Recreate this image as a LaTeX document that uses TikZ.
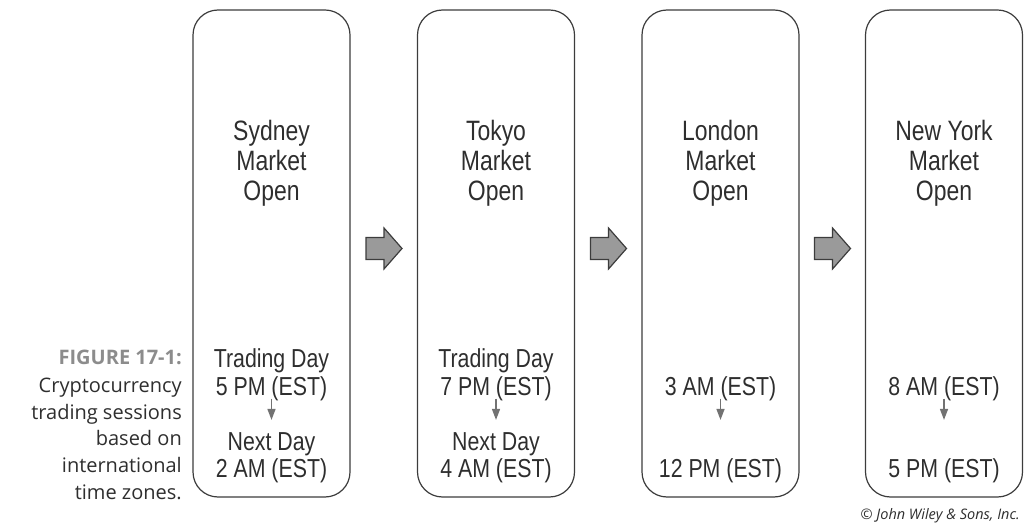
\documentclass[tikz,border=0pt]{standalone}
\usepackage{fontspec}
\setmainfont{Open Sans}
\newfontfamily\condfont[FakeStretch=0.82]{Liberation Sans}
\usetikzlibrary{arrows.meta}
\definecolor{ink}{HTML}{2E2E2E}
\definecolor{boxline}{HTML}{3C3C3C}
\definecolor{fillgray}{HTML}{9A9A9A}
\definecolor{arrgray}{HTML}{727272}
\definecolor{figgray}{HTML}{8C8C8C}
\begin{document}
\begin{tikzpicture}[x=1pt,y=-1pt,
  market/.style={draw=boxline, line width=1.2pt, rounded corners=25pt, minimum width=157pt, minimum height=487pt, inner sep=0pt},
  toptext/.style={anchor=base, font=\condfont\fontsize{28}{30}\selectfont, text=ink, inner sep=0pt},
  bottext/.style={anchor=base, font=\condfont\fontsize{26}{28}\selectfont, text=ink, inner sep=0pt},
  down/.style={draw=arrgray, line width=1.5pt, -{Triangle[width=8pt,length=11pt]}, shorten <=-2pt, shorten >=12pt},
  captext/.style={anchor=base east, font=\fontsize{20}{27}\selectfont, text=ink, inner sep=0pt},
  blockarrow/.pic={\draw[draw=boxline, fill=fillgray, line width=1.2pt, line join=miter]
     (0,-11) -- (18,-11) -- (18,-20.5) -- (36,0) -- (18,20.5) -- (18,11) -- (0,11) -- cycle;},
]
\useasboundingbox (0,0) rectangle (1025,529);

% boxes
\node[market] (b1) at (271.5,253.5) {};
\node[market] (b2) at (496,253.5) {};
\node[market] (b3) at (720.5,253.5) {};
\node[market] (b4) at (944,253.5) {};

% titles
\node[toptext] (t1a) at (271.5,141) {Sydney};
\node[toptext] (t1b) at (271.5,171) {Market};
\node[toptext] (t1c) at (271.5,201) {Open};
\node[toptext] (t2a) at (496,141) {Tokyo};
\node[toptext] (t2b) at (496,171) {Market};
\node[toptext] (t2c) at (496,201) {Open};
\node[toptext] (t3a) at (720.5,141) {London};
\node[toptext] (t3b) at (720.5,171) {Market};
\node[toptext] (t3c) at (720.5,201) {Open};
\node[toptext] (t4a) at (944,141) {New York};
\node[toptext] (t4b) at (944,171) {Market};
\node[toptext] (t4c) at (944,201) {Open};

% times
\node[bottext] (d1) at (271.5,367) {Trading Day};
\node[bottext] (p1) at (271.5,395) {5 PM (EST)};
\node[bottext] (n1) at (271.5,450) {Next Day};
\node[bottext] (q1) at (271.5,477) {2 AM (EST)};
\node[bottext] (d2) at (496,367) {Trading Day};
\node[bottext] (p2) at (496,395) {7 PM (EST)};
\node[bottext] (n2) at (496,450) {Next Day};
\node[bottext] (q2) at (496,477) {4 AM (EST)};
\node[bottext] (p3) at (720.5,395) {3 AM (EST)};
\node[bottext] (q3) at (720.5,477) {12 PM (EST)};
\node[bottext] (p4) at (944,395) {8 AM (EST)};
\node[bottext] (q4) at (944,477) {5 PM (EST)};

\draw[down] (p1.south) -- (n1.north);
\draw[down] (p2.south) -- (n2.north);
\draw[down] (p3.south) -- (p3.south |- n1.north);
\draw[down] (p4.south) -- (p4.south |- n1.north);

% block arrows
\pic at (366,248.5) {blockarrow};
\pic at (590.5,248.5) {blockarrow};
\pic at (814.5,248.5) {blockarrow};

% caption
\node[captext, font=\bfseries\fontsize{20}{27}\selectfont, text=figgray] (fig) at (182,364) {FIGURE 17-1:};
\node[captext] (c1) at (182,392) {Cryptocurrency};
\node[captext] (c2) at (182,419) {trading sessions};
\node[captext] (c3) at (182,445) {based on};
\node[captext] (c4) at (182,472) {international};
\node[captext] (c5) at (182,499) {time zones.};

\node[anchor=base east, inner sep=0pt, text=ink, font=\itshape\fontsize{14.5}{17}\selectfont] (copy) at (1020,519) {\textcopyright{} John Wiley \& Sons, Inc.};
\end{tikzpicture}
\end{document}
